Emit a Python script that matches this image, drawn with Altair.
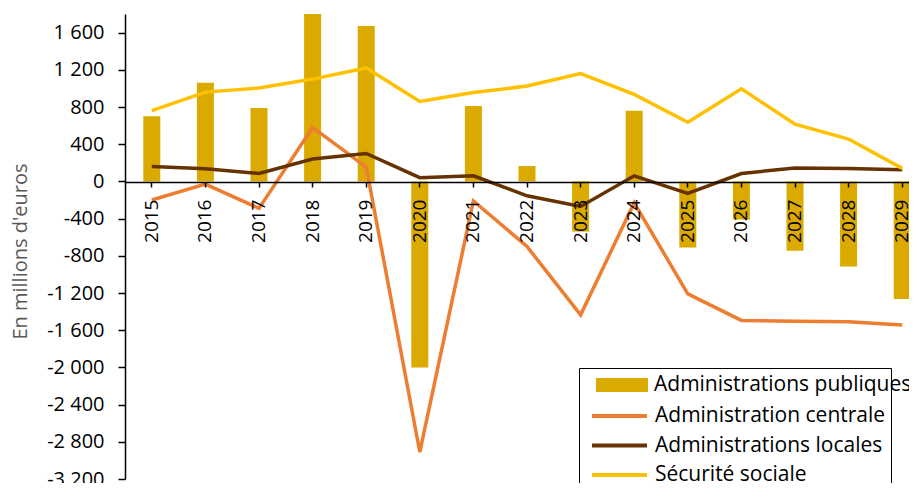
import altair as alt
import pandas as pd

years = [str(y) for y in range(2015, 2030)]
publiques = [700, 1060, 790, 1920, 1670, -2000, 810, 165, -540, 760, -710, -410, -745, -915, -1265]
centrale = [-200, -30, -290, 580, 155, -2910, -210, -700, -1435, -230, -1210, -1495, -1505, -1510, -1545]
locales = [160, 135, 85, 240, 300, 40, 60, -155, -270, 60, -130, 85, 145, 140, 125]
securite = [760, 960, 1005, 1100, 1220, 860, 955, 1025, 1160, 935, 635, 995, 615, 455, 140]

series = ["Administrations publiques", "Administration centrale",
          "Administrations locales", "Sécurité sociale"]
colors = ["#DAAA00", "#ED7D31", "#663300", "#FFC000"]
y_ticks = list(range(-3200, 1601, 400))

bar_df = pd.DataFrame({"year": years, "value": publiques, "serie": series[0]})
line_df = pd.concat([
    pd.DataFrame({"year": years, "value": centrale, "serie": series[1]}),
    pd.DataFrame({"year": years, "value": locales, "serie": series[2]}),
    pd.DataFrame({"year": years, "value": securite, "serie": series[3]}),
])

FONT = "Open Sans"

x_enc = alt.X("year:N", sort=years,
              scale=alt.Scale(paddingInner=0, paddingOuter=0),
              axis=alt.Axis(title=None, labelAngle=270, labelFont=FONT, labelFontSize=19,
                            labelColor="black", tickColor="black", domainColor="black",
                            tickSize=5, tickWidth=1.5, domainWidth=1.5, labelPadding=12,
                            offset=-301, zindex=1, labelOverlap=False))
y_enc = alt.Y("value:Q",
              scale=alt.Scale(domain=[-3200, 1800], nice=False, zero=False, range=[465, 0]),
              axis=alt.Axis(values=y_ticks,
                            labelExpr="(datum.value < 0 ? '-' : '') + replace(format(abs(datum.value), ',d'), ',', ' ')",
                            labelFont=FONT, labelFontSize=20, labelColor="black",
                            tickColor="black", domainColor="black", tickSize=7,
                            tickWidth=1.5, domainWidth=1.5, labelPadding=14,
                            title="En millions d'euros", titleFont=FONT, titleFontSize=20,
                            titleColor="#595959", titleFontWeight="normal", titlePadding=16,
                            titleY=237))

fill_enc = alt.Fill("serie:N",
                    scale=alt.Scale(domain=series[:1], range=colors[:1]),
                    legend=alt.Legend(
                        title=None, orient="none", legendX=471, legendY=345,
                        labelFont=FONT, labelFontSize=21, labelColor="black", labelLimit=500,
                        symbolType="M-1,-0.27H1V0.27H-1Z", symbolSize=2704,
                        symbolStrokeWidth=0, symbolOpacity=1, padding=0,
                        labelOffset=6, zindex=3))
stroke_enc = alt.Stroke("serie:N",
                        scale=alt.Scale(domain=series[1:], range=colors[1:]),
                        legend=alt.Legend(
                            title=" ", titleFontSize=19, titlePadding=14,
                            orient="none", legendX=454, legendY=354,
                            direction="vertical", labelFont=FONT, labelFontSize=21,
                            labelColor="black", labelLimit=500, symbolType="stroke",
                            symbolSize=3025, symbolStrokeWidth=4, strokeColor="black",
                            fillColor="white", padding=5, rowPadding=8.5, clipHeight=20,
                            labelOffset=6, symbolOffset=6, zindex=1))

bars = alt.Chart(bar_df).mark_bar(width=17, clip=True).encode(
    x=x_enc, y=y_enc, fill=fill_enc)
lines = alt.Chart(line_df).mark_line(strokeWidth=3.5).encode(
    x=x_enc, y=y_enc, stroke=stroke_enc)

chart = alt.layer(bars, lines).resolve_scale(fill="independent", stroke="independent").properties(
    width=804, height=469,
    autosize=alt.AutoSizeParams(type="none"),
    padding={"left": 117, "top": 6, "right": -20, "bottom": 0},
).configure_view(stroke=None).configure_axis(grid=False)

chart.save("out.html", embed_options={"renderer": "svg", "actions": False})
